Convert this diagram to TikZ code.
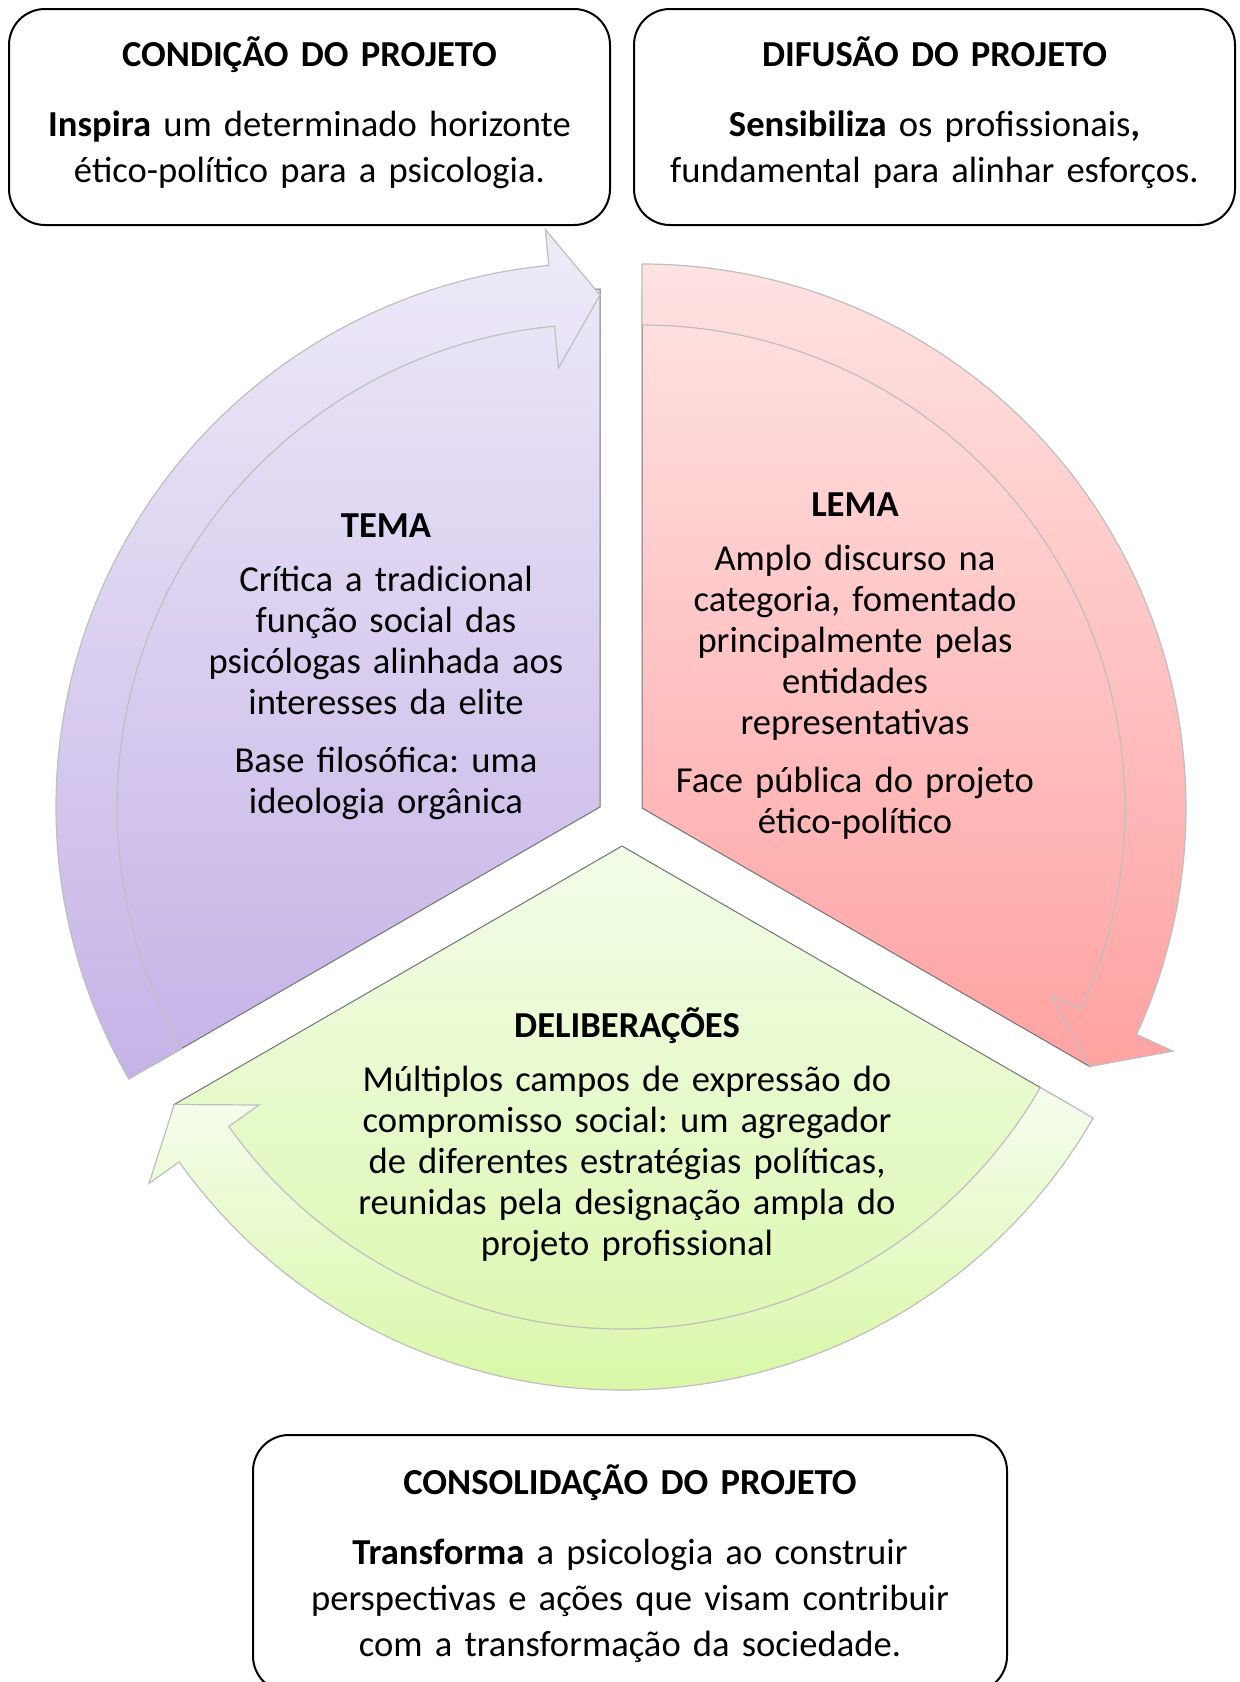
\documentclass[tikz,border=0pt]{standalone}
\usepackage{fontspec}
\setmainfont{Carlito}
\frenchspacing
\definecolor{purpTop}{HTML}{EBE6F7}
\definecolor{purpBot}{HTML}{C5B3E7}
\definecolor{redTop}{HTML}{FFE2E2}
\definecolor{redBot}{HTML}{FFA2A2}
\definecolor{grnTop}{HTML}{F2FCE8}
\definecolor{grnBot}{HTML}{D9F7A6}
\begin{document}
\begin{tikzpicture}[x=0.5pt,y=0.5pt,
  infobox/.style={draw=black, line width=1pt, rounded corners=18pt, fill=white},
  boxtext/.style={font=\fontsize{18.3}{23}\selectfont, text width=295pt, align=center, anchor=base, inner sep=0pt},
  segtext/.style={font=\fontsize{18.3}{20.5}\selectfont, text width=210pt, align=center, anchor=base, inner sep=0pt},
  wedgeedge/.style={draw=black!55, line width=0.5pt},
  bandedge/.style={draw=black!25, line width=0.6pt},
]
\useasboundingbox (0,0) rectangle (1239,-1682);

% ---- wedges ----
\begin{scope}[shift={(600,-807)}]
  \path[wedgeedge, top color=purpTop, bottom color=purpBot]
    (0,0) -- (90:518) arc[start angle=90, end angle=210, radius=518] -- cycle;
\end{scope}
\begin{scope}[shift={(642,-808)}]
  \path[wedgeedge, top color=redTop, bottom color=redBot]
    (0,0) -- (90:518) arc[start angle=90, end angle=-30, radius=518] -- cycle;
\end{scope}
\begin{scope}[shift={(622,-846)}]
  \path[wedgeedge, top color=grnTop, bottom color=grnBot]
    (0,0) -- (-30:518) arc[start angle=-30, end angle=-150, radius=518] -- cycle;
\end{scope}

% ---- curved arrows ----
\begin{scope}[shift={(600,-807)}]
  \path[bandedge, top color=purpTop!80!white, bottom color=purpBot]
    (210:544) arc[start angle=210, end angle=95.4, radius=544]
    -- (95.4:580) -- (90:512) -- (95.4:441) -- (95.4:483)
    arc[start angle=95.4, end angle=210, radius=483] -- cycle;
\end{scope}
\begin{scope}[shift={(642,-808)}]
  \path[bandedge, top color=redTop, bottom color=redBot]
    (90:544) arc[start angle=90, end angle=-24.6, radius=544]
    -- (-24.6:584) -- (-30:517) -- (-24.6:450) -- (-24.6:483)
    arc[start angle=-24.6, end angle=90, radius=483] -- cycle;
\end{scope}
\begin{scope}[shift={(622,-846)}]
  \path[bandedge, top color=grnTop!70!white, bottom color=grnBot]
    (-30:544) arc[start angle=-30, end angle=-144.5, radius=544]
    -- (-144.5:581) -- (-150:517) -- (-144.5:446) -- (-144.5:483)
    arc[start angle=-144.5, end angle=-30, radius=483] -- cycle;
\end{scope}

% ---- segment texts ----
\node[segtext] (tema) at (386,-537) {\textbf{TEMA}\\[6.5pt]
  Crítica a tradicional\\ função social das\\ psicólogas alinhada aos\\ interesses da elite\\[8.5pt]
  Base filosófica: uma\\ ideologia orgânica};
\node[segtext] (lema) at (855,-516) {\textbf{LEMA}\\[6.5pt]
  Amplo discurso na\\ categoria, fomentado\\ principalmente pelas\\ entidades\\ representativas\\[8.5pt]
  Face pública do projeto\\ ético-político};
\node[segtext, text width=290pt] (delib) at (627,-1037) {\textbf{DELIBERAÇÕES}\\[6.5pt]
  Múltiplos campos de expressão do\\ compromisso social: um agregador\\ de diferentes estratégias políticas,\\ reunidas pela designação ampla do\\ projeto profissional};

% ---- outer boxes ----
\draw[infobox] (9,-9) rectangle (610,-225);
\draw[infobox] (634,-9) rectangle (1235,-225);
\draw[infobox] (253,-1435) rectangle (1007,-1692);

\node[boxtext] (cond) at (309.5,-66) {\textbf{CONDIÇÃO DO PROJETO}\\[12pt]
  \textbf{Inspira} um determinado horizonte\\ ético-político para a psicologia.};
\node[boxtext] (dif) at (934.5,-66) {\textbf{DIFUSÃO DO PROJETO}\\[12pt]
  \textbf{Sensibiliza} os profissionais\textbf{,}\\ fundamental para alinhar esforços.};
\node[boxtext, text width=360pt] (cons) at (630,-1494) {\textbf{CONSOLIDAÇÃO DO PROJETO}\\[12pt]
  \textbf{Transforma} a psicologia ao construir\\ perspectivas e ações que visam contribuir\\ com a transformação da sociedade.};
\end{tikzpicture}
\end{document}
